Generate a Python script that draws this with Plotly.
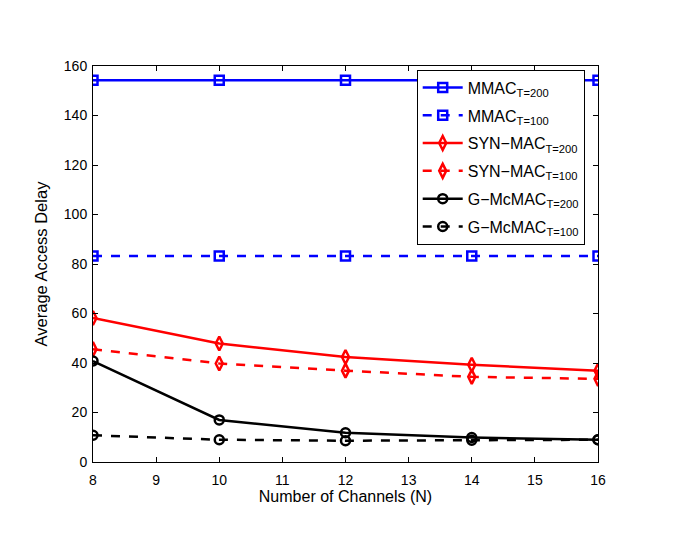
import plotly.graph_objects as go

channels = [8, 10, 12, 14, 16]
mmac_t200 = [154.2, 154.2, 154.2, 154.2, 154.2]
mmac_t100 = [83.2, 83.2, 83.2, 83.2, 83.2]
syn_t200 = [58.2, 47.9, 42.4, 39.3, 36.9]
syn_t100 = [45.6, 39.8, 36.9, 34.4, 33.6]
gmc_t200 = [40.8, 17.0, 11.8, 9.9, 9.0]
gmc_t100 = [10.8, 9.0, 8.6, 8.8, 9.0]

series = [
    ("MMAC<sub>T=200</sub>", mmac_t200, "#0000ff", "solid", "square-open"),
    ("MMAC<sub>T=100</sub>", mmac_t100, "#0000ff", "dash", "square-open"),
    ("SYN\u2212MAC<sub>T=200</sub>", syn_t200, "#ff0000", "solid", "diamond-tall-open"),
    ("SYN\u2212MAC<sub>T=100</sub>", syn_t100, "#ff0000", "dash", "diamond-tall-open"),
    ("G\u2212McMAC<sub>T=200</sub>", gmc_t200, "#000000", "solid", "circle-open"),
    ("G\u2212McMAC<sub>T=100</sub>", gmc_t100, "#000000", "dash", "circle-open"),
]

fig = go.Figure()
for i, (name, vals, color, dash, sym) in enumerate(series):
    fig.add_trace(go.Scatter(
        x=channels, y=vals, name=name, mode="lines+markers",
        legendgroup=f"g{i}",
        line=dict(color=color, width=2.5, dash=dash),
        marker=dict(symbol=sym, size=10 if "diamond" in sym else 9,
                    color=color, line=dict(color=color, width=2.5)),
    ))

axis_common = dict(
    showgrid=False, zeroline=False, showline=True, linecolor="black",
    linewidth=1, mirror="allticks", ticks="inside", ticklen=5,
    tickcolor="black", tickfont=dict(size=14, color="black"),
)

fig.update_layout(
    width=685, height=559,
    margin=dict(l=85, r=95, t=58, b=105),
    paper_bgcolor="white", plot_bgcolor="white",
    font=dict(family="Liberation Sans, Arial, sans-serif", color="black"),
    xaxis=dict(range=[8, 16], dtick=1, ticklabelstandoff=5,
               title=dict(text="Number of Channels (N)", font=dict(size=16), standoff=4),
               **axis_common),
    yaxis=dict(range=[0, 160], dtick=20, ticklabelstandoff=2,
               title=dict(text="Average Access Delay", font=dict(size=16.5), standoff=12),
               **axis_common),
    legend=dict(x=0.641, y=0.991, xanchor="left", yanchor="top",
                bgcolor="white", bordercolor="black", borderwidth=1,
                font=dict(size=16, color="black"), tracegroupgap=4,
                itemwidth=40),
    showlegend=True,
)

fig.write_html("out.html")
